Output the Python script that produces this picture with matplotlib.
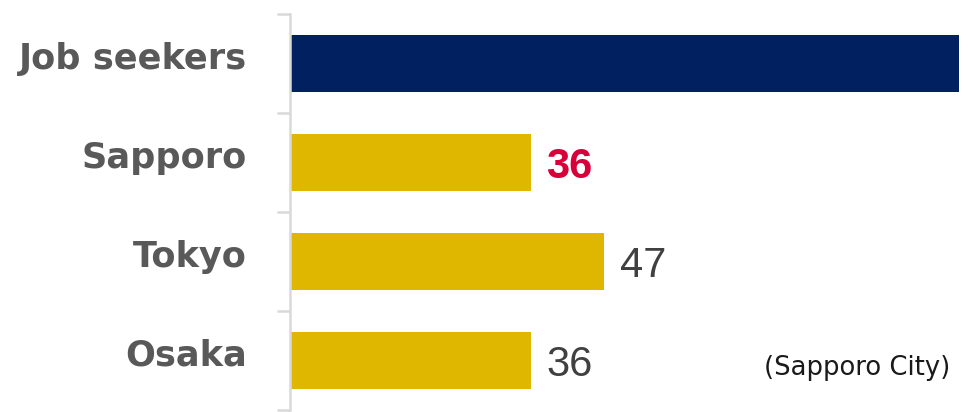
import matplotlib.pyplot as plt
from matplotlib.transforms import blended_transform_factory

# data
categories = ["Job seekers", "Sapporo", "Tokyo", "Osaka"]
values = [100, 36, 47, 36]
bar_colors = ["#002060", "#DFB600", "#DFB600", "#DFB600"]
value_labels = [None, "36", "47", "36"]
value_colors = [None, "#D7003A", "#404040", "#404040"]
value_weights = [None, "bold", "normal", "normal"]

fig = plt.figure(figsize=(9.69, 4.12), dpi=100)
ax = fig.add_axes([290 / 969, 2 / 412, 669 / 969, 396 / 412])

ypos = list(range(len(categories)))
ax.barh(ypos, values, height=0.57, color=bar_colors, zorder=2)

ax.set_xlim(0, 100)
ax.set_ylim(len(categories) - 0.5, -0.5)

# spines / ticks
for s in ["top", "right", "bottom"]:
    ax.spines[s].set_visible(False)
ax.spines["left"].set_color("#D9D9D9")
ax.spines["left"].set_linewidth(1.8)
ax.set_xticks([])
ax.set_yticks([i - 0.5 for i in range(len(categories) + 1)])
ax.set_yticklabels([])
ax.tick_params(axis="y", length=9.5, width=1.8, color="#D9D9D9", direction="out")

# category labels
trans = blended_transform_factory(fig.transFigure, ax.transData)
for i, name in enumerate(categories):
    ax.text(247 / 969, i + 0.055, name, transform=trans, ha="right", va="baseline",
            fontsize=25.3, fontweight="bold", color="#595959",
            family="DejaVu Sans")

# value labels
for i, (v, lab) in enumerate(zip(values, value_labels)):
    if lab is None:
        continue
    ax.annotate(lab, (v, i), xytext=(11, 0), textcoords="offset points",
                ha="left", va="center_baseline", fontsize=30,
                fontweight=value_weights[i], color=value_colors[i],
                family="Liberation Sans")

fig.text(950 / 969, 37 / 412, "(Sapporo City)", ha="right", va="baseline",
         fontsize=18.6, color="#1A1A1A", family="DejaVu Sans")

fig.savefig("out.png", dpi=100)
